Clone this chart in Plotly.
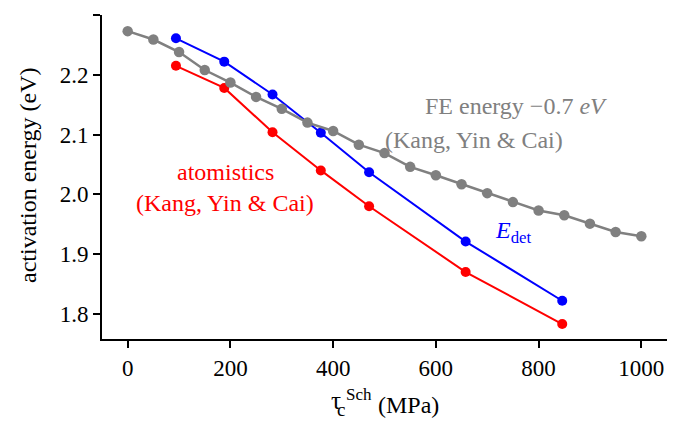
import plotly.graph_objects as go

fe_x = [0, 50, 100, 150, 200, 250, 300, 350, 400, 450, 500, 550, 600, 650, 700, 750, 800, 850, 900, 950, 1000]
fe_y = [2.273, 2.259, 2.238, 2.208, 2.187, 2.163, 2.143, 2.120, 2.106, 2.083, 2.069, 2.046, 2.032, 2.017, 2.002, 1.987, 1.973, 1.965, 1.951, 1.937, 1.930]

tau_x = [94, 188, 282, 376, 470, 658, 846]
edet_y = [2.261, 2.222, 2.167, 2.103, 2.037, 1.921, 1.822]
atom_y = [2.215, 2.178, 2.104, 2.040, 1.980, 1.870, 1.783]

x_ticks = [0, 200, 400, 600, 800, 1000]
y_ticks = [1.8, 1.9, 2.0, 2.1, 2.2, 2.3]

FONT = "Liberation Serif"
FS = 23     # tick labels
FA = 24     # annotations / titles

fig = go.Figure()
fig.add_trace(go.Scatter(x=tau_x, y=atom_y, mode="lines+markers",
                         line=dict(color="#ff0000", width=2),
                         marker=dict(color="#ff0000", size=10), showlegend=False))
fig.add_trace(go.Scatter(x=tau_x, y=edet_y, mode="lines+markers",
                         line=dict(color="#0000ff", width=2),
                         marker=dict(color="#0000ff", size=10), showlegend=False))
fig.add_trace(go.Scatter(x=fe_x, y=fe_y, mode="lines+markers",
                         line=dict(color="#808080", width=2.5),
                         marker=dict(color="#808080", size=10.5), showlegend=False))

# page has an 8px body margin; figure is sized to fit the window after it
OFF = 8
W, H = 685 - OFF, 423 - OFF
L, R, T, B = 102 - OFF, 18, 15 - OFF, 84
pw, ph = W - L - R, H - T - B

def px(xp):
    return (xp - OFF - L) / pw

def py(yp):
    return (H - B - (yp - OFF)) / ph

ann = []
def add(text, x, y, color, size=FA, ref="data", xanchor="center"):
    d = dict(text=text, showarrow=False, font=dict(family=FONT, size=size, color=color),
             xanchor=xanchor, yanchor="middle")
    if ref == "data":
        d.update(x=x, y=y, xref="x", yref="y")
    else:
        d.update(x=px(x), y=py(y), xref="paper", yref="paper")
    ann.append(d)

add("atomistics", 190, 2.038, "#ff0000")
add("(Kang, Yin &amp; Cai)", 190, 1.986, "#ff0000")
add("FE energy −0.7 <i>eV</i>", 756, 2.148, "#808080")
add("(Kang, Yin &amp; Cai)", 675, 2.091, "#808080")
add("<i>E</i><sub>det</sub>", 752, 1.937, "#0000ff", size=24)

# x-axis title pieces
add("τ", 336, 400, "black", size=25, ref="paper")
add("c", 341, 409, "black", size=19, ref="paper")
add("Sch", 359, 394, "black", size=17, ref="paper")
add("(MPa)", 408, 405, "black", size=FA, ref="paper")
# y-axis title
ann.append(dict(text="activation energy (eV)", showarrow=False, textangle=-90,
                font=dict(family=FONT, size=FA, color="black"),
                x=px(28), y=py(176), xref="paper", yref="paper",
                xanchor="center", yanchor="middle"))

fig.update_layout(
    width=W, height=H,
    margin=dict(l=L, r=R, t=T, b=B, autoexpand=False),
    paper_bgcolor="white", plot_bgcolor="white",
    font=dict(family=FONT, size=FS, color="black"),
    annotations=ann,
)
fig.update_xaxes(range=[-50, 1050], tickvals=x_ticks, ticks="outside", ticklen=7,
                 tickwidth=2, tickcolor="black", showline=True, linecolor="black",
                 linewidth=2, showgrid=False, zeroline=False,
                 tickfont=dict(family=FONT, size=FS, color="black"))
fig.update_yaxes(range=[1.758, 2.3], tickvals=y_ticks, tickformat=".1f", ticks="outside",
                 ticklen=7, tickwidth=2, tickcolor="black", showline=True,
                 linecolor="black", linewidth=2, showgrid=False, zeroline=False,
                 ticksuffix="\u00a0",
                 tickfont=dict(family=FONT, size=FS, color="black"))

fig.write_html("out.html")
